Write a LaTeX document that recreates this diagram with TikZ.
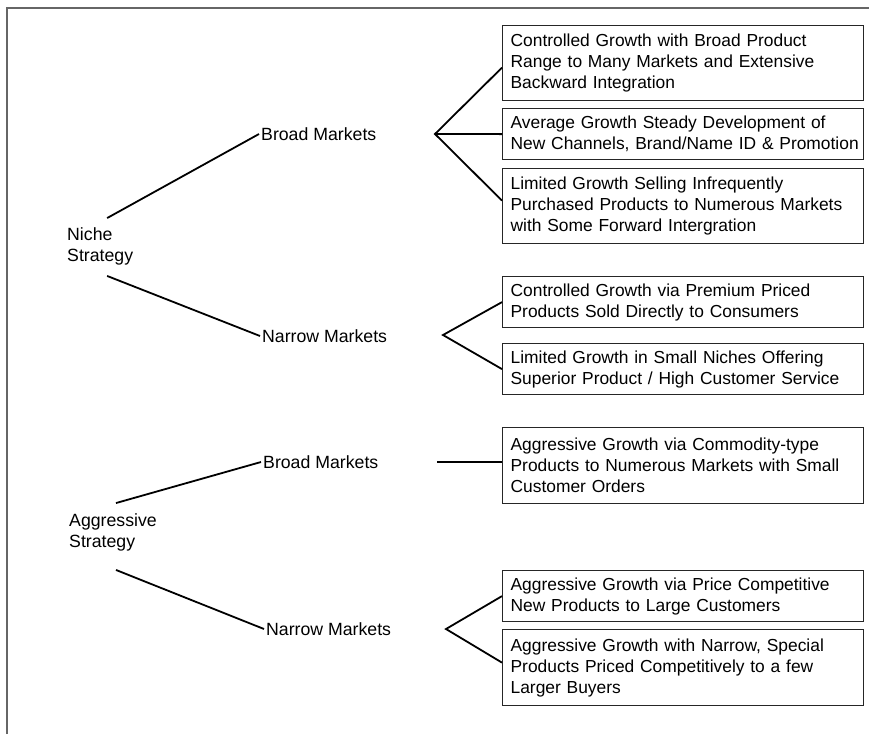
\documentclass[tikz,border=0pt]{standalone}
\usepackage{fontspec}
\setmainfont{Liberation Sans}
\begin{document}
\begin{tikzpicture}[x=1pt,y=-1pt,
        every node/.style={font=\fontsize{17.7}{21}\selectfont},
        lbl/.style={inner sep=2pt,anchor=west,align=left},
        growth/.style={draw=black!85,line width=1.2pt,anchor=north west,align=left,
            font=\fontsize{17.4}{21}\selectfont,
            text width=345pt,inner xsep=8pt,inner ysep=0pt},
        conn/.style={line width=1.8pt,black}]
        \useasboundingbox (0,0) rectangle (869,734);
        \draw[black!60,line width=1.2pt] (7,734) -- (7,8) -- (869,8);

        % strategies and markets
        \node[lbl] (niche) at (65,246) {Niche\\Strategy};
        \node[lbl] (nbroad) at (259,134) {Broad Markets};
        \node[lbl] (nnarrow) at (260,336) {Narrow Markets};
        \node[lbl] (aggr) at (67,532) {Aggressive\\Strategy};
        \node[lbl] (abroad) at (261,462) {Broad Markets};
        \node[lbl] (anarrow) at (264,629) {Narrow Markets};

        % growth boxes
        \node[growth,minimum height=75pt] (cbroad) at (502,25) {Controlled Growth with Broad Product\\Range to Many Markets and Extensive\\Backward Integration};
        \node[growth,minimum height=51pt] (avg) at (502,108) {Average Growth Steady Development of\\\mbox{New Channels, Brand/Name ID \& Promotion}};
        \node[growth,minimum height=75pt] (lbroad) at (502,168) {Limited Growth Selling Infrequently\\Purchased Products to Numerous Markets\\with Some Forward Intergration};
        \node[growth,minimum height=51pt] (cnarrow) at (502,276) {Controlled Growth via Premium Priced\\Products Sold Directly to Consumers};
        \node[growth,minimum height=51pt] (lnarrow) at (502,343) {Limited Growth in Small Niches Offering\\Superior Product / High Customer Service};
        \node[growth,minimum height=76pt] (agcom) at (502,427) {Aggressive Growth via Commodity-type\\Products to Numerous Markets with Small\\Customer Orders};
        \node[growth,minimum height=51pt] (agprice) at (502,570) {Aggressive Growth via Price Competitive\\New Products to Large Customers};
        \node[growth,minimum height=76pt] (agspec) at (502,629) {Aggressive Growth with Narrow, Special\\Products Priced Competitively to a few\\Larger Buyers};

        \coordinate (f1) at (435,134);
        \coordinate (f2) at (443,335);
        \coordinate (f3) at (437,462);
        \coordinate (f4) at (446,629);

        \draw[conn] ([xshift=7pt,yshift=7pt]niche.north) -- (nbroad.west);
        \draw[conn] ([xshift=7pt,yshift=-9pt]niche.south) -- (nnarrow.west);
        \draw[conn] ([xshift=3pt,yshift=8pt]aggr.north) -- (abroad.west);
        \draw[conn] ([xshift=3pt,yshift=-17pt]aggr.south) -- (anarrow.west);

        \draw[conn] ([yshift=-4.5pt]cbroad.west) -- (f1) -- ([yshift=5.5pt]lbroad.west);
        \draw[conn] (f1) -- (avg.west);
        \draw[conn] (cnarrow.west) -- (f2) -- (lnarrow.west);
        \draw[conn] (f3) -- (f3 -| agcom.west);
        \draw[conn] (agprice.west) -- (f4) -- ([yshift=5pt]agspec.west);
    \end{tikzpicture}
\end{document}
